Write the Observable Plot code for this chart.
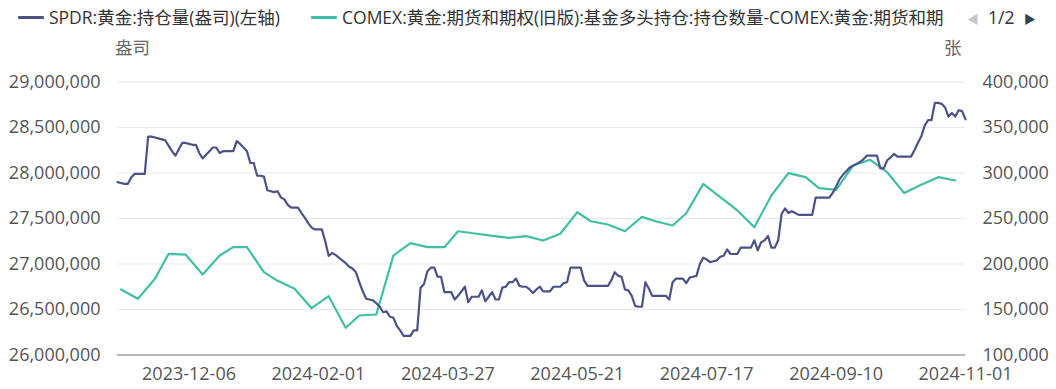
<!DOCTYPE html>
<html><head><meta charset="utf-8">
<script src="https://cdn.jsdelivr.net/npm/d3@7"></script>
<script src="https://cdn.jsdelivr.net/npm/@observablehq/plot@0.6"></script>
<style>
body{margin:0;background:#fff;font-family:"Open Sans","Noto Sans CJK SC",sans-serif;}
#wrap{position:relative;width:1056px;height:389px;overflow:hidden;}
.leg{position:absolute;top:6px;font-size:17.5px;color:#333;white-space:nowrap;line-height:22px;display:flex;align-items:center;}
.sw{display:inline-block;width:26px;height:3px;margin-right:5px;border-radius:1px;}
.unit{position:absolute;top:34px;font-size:17.5px;color:#666;}
.pager{position:absolute;top:6px;left:967px;font-size:17.5px;line-height:22px;color:#333;white-space:nowrap;}
</style></head>
<body>
<div id="wrap"><div id="chart"></div></div>
<script>
// Series names
const seriesA = "SPDR:黄金:持仓量(盎司)(左轴)";
const seriesB = "COMEX:黄金:期货和期权(旧版):基金多头持仓:持仓数量-COMEX:黄金:期货和期";
const unitLeft = "盎司", unitRight = "张";

// Trading-day calendar (categories)
const firstDay = "2023-11-06", lastDay = "2024-11-01";
const holidays = ["2023-11-23","2023-12-25","2024-01-01","2024-01-15","2024-02-19","2024-03-29","2024-05-27","2024-06-19","2024-07-04","2024-09-02"];

// X tick labels
const xTickLabels = ["2023-12-06","2024-02-01","2024-03-27","2024-05-21","2024-07-17","2024-09-10","2024-11-01"];
// Left axis ticks (ounces) and right axis ticks (contracts)
const leftTicks = [26000000,26500000,27000000,27500000,28000000,28500000,29000000];
const rightTicks = [100000,150000,200000,250000,300000,350000,400000];

// SPDR gold holdings, million ounces, one per trading day
const spdrM = [
27.90,27.89,27.88,27.88,27.95,27.99,27.99,27.99,27.99,28.40,
28.40,28.39,28.38,28.37,28.36,28.30,28.24,28.19,28.26,28.33,
28.33,28.32,28.31,28.31,28.22,28.16,28.20,28.24,28.28,28.28,
28.22,28.24,28.24,28.24,28.24,28.35,28.32,28.28,28.24,28.11,
28.11,27.97,27.97,27.96,27.81,27.80,27.79,27.80,27.73,27.71,
27.65,27.62,27.62,27.62,27.56,27.51,27.45,27.40,27.38,27.38,
27.38,27.25,27.09,27.12,27.10,27.07,27.04,27.01,26.97,26.95,
26.91,26.80,26.70,26.62,26.61,26.60,26.57,26.53,26.47,26.48,
26.42,26.41,26.32,26.27,26.21,26.21,26.21,26.27,26.27,26.74,
26.78,26.92,26.96,26.96,26.86,26.86,26.69,26.69,26.69,26.61,
26.65,26.70,26.75,26.58,26.64,26.64,26.64,26.71,26.59,26.64,
26.69,26.61,26.61,26.74,26.75,26.80,26.80,26.84,26.76,26.75,
26.75,26.72,26.68,26.72,26.75,26.70,26.70,26.70,26.75,26.75,
26.75,26.79,26.80,26.96,26.96,26.96,26.96,26.82,26.76,26.76,
26.76,26.76,26.76,26.76,26.76,26.82,26.91,26.87,26.86,26.72,
26.71,26.65,26.54,26.53,26.53,26.80,26.73,26.65,26.65,26.65,
26.65,26.65,26.61,26.80,26.84,26.84,26.84,26.79,26.85,26.86,
26.87,27.00,27.07,27.05,27.02,27.03,27.04,27.08,27.09,27.16,
27.11,27.11,27.11,27.18,27.18,27.18,27.18,27.26,27.15,27.24,
27.26,27.31,27.18,27.18,27.26,27.55,27.61,27.56,27.58,27.56,
27.54,27.54,27.54,27.54,27.54,27.73,27.73,27.73,27.73,27.73,
27.78,27.85,27.93,27.98,28.02,28.06,28.08,28.10,28.12,28.15,
28.19,28.19,28.19,28.19,28.05,28.05,28.14,28.17,28.21,28.18,
28.18,28.18,28.18,28.18,28.25,28.33,28.40,28.52,28.58,28.58,
28.77,28.77,28.76,28.72,28.62,28.66,28.62,28.69,28.68,28.59
];

// COMEX weekly (Tuesday) fund long positions, thousand contracts
const comexDates = [
"2023-11-07","2023-11-14","2023-11-21","2023-11-28","2023-12-05","2023-12-12","2023-12-19","2023-12-26",
"2024-01-02","2024-01-09","2024-01-16","2024-01-23","2024-01-30","2024-02-06","2024-02-13","2024-02-20","2024-02-27",
"2024-03-05","2024-03-12","2024-03-19","2024-03-26","2024-04-02","2024-04-09","2024-04-16","2024-04-23","2024-04-30",
"2024-05-07","2024-05-14","2024-05-21","2024-05-28","2024-06-04","2024-06-11","2024-06-18","2024-06-25",
"2024-07-02","2024-07-09","2024-07-16","2024-07-23","2024-07-30","2024-08-06","2024-08-13","2024-08-20","2024-08-27",
"2024-09-03","2024-09-10","2024-09-17","2024-09-24","2024-10-01","2024-10-08","2024-10-15","2024-10-22","2024-10-29"];
const comexK = [
172.0,161.8,183.7,211.2,210.4,188.5,209.3,218.5,
218.5,191.0,181.5,172.7,151.4,164.6,129.9,143.4,144.5,
209.3,222.9,218.5,218.5,236.0,233.5,231.0,228.8,230.6,
225.8,233.2,256.9,247.0,243.4,236.0,251.8,247.0,
242.3,255.8,288.1,273.4,258.8,240.4,275.3,299.8,295.4,
283.3,281.5,308.2,314.5,300.9,277.9,287.0,295.4,291.8];

const colorA = "#4c5187", colorB = "#3fbfa5";

const fmt = d3.utcFormat("%Y-%m-%d");
const dates = d3.utcDays(new Date(firstDay), d3.utcDay.offset(new Date(lastDay), 1))
  .filter(d => d.getUTCDay() !== 0 && d.getUTCDay() !== 6)
  .map(fmt).filter(s => !holidays.includes(s));

const spdr = spdrM.map((v, i) => ({date: dates[i], value: v * 1e6}));
// map right axis into left axis units: 100k..400k  <->  26M..29M
const toLeft = v => 26e6 + (v - 100000) * 10;
const comex = comexK.map((v, i) => ({date: comexDates[i], value: toLeft(v * 1000)}));

const num = d3.format(",");
const font = '"Open Sans","Noto Sans CJK SC",sans-serif';

const chart = Plot.plot({
  width: 1056, height: 389,
  marginLeft: 117, marginRight: 91, marginTop: 81.5, marginBottom: 34.5,
  style: {fontFamily: font, fontSize: "18px", color: "#555", background: "#fff"},
  x: {type: "point", domain: dates, padding: 0},
  y: {domain: [26e6, 29e6]},
  marks: [
    Plot.gridY(leftTicks.slice(1), {stroke: "#e8e8e8", strokeOpacity: 1, strokeWidth: 1}),
    Plot.ruleY([26e6], {stroke: "#6e7079", strokeWidth: 1.2}),
    Plot.line(comex, {x: "date", y: "value", stroke: colorB, strokeWidth: 2.2, strokeLinejoin: "round"}),
    Plot.line(spdr, {x: "date", y: "value", stroke: colorA, strokeWidth: 2.2, strokeLinejoin: "round"}),
    Plot.axisY(leftTicks, {anchor: "left", tickSize: 0, tickPadding: 17, tickFormat: num, label: null, fontSize: 18}),
    Plot.axisY(rightTicks.map(toLeft), {anchor: "right", tickSize: 0, tickPadding: 17, tickFormat: d => num(Math.round((d - 26e6) / 10 + 100000)), label: null, fontSize: 18}),
    Plot.axisX(xTickLabels, {tickSize: 0, tickPadding: 12, label: null, fontSize: 18})
  ]
});
const wrap = document.getElementById("wrap");
document.getElementById("chart").appendChild(chart);

function addLegend(left, color, text) {
  const d = document.createElement("div");
  d.className = "leg"; d.style.left = left + "px";
  const s = document.createElement("span"); s.className = "sw"; s.style.background = color;
  d.appendChild(s); d.appendChild(document.createTextNode(text));
  wrap.appendChild(d);
}
addLegend(18, colorA, seriesA);
addLegend(311, colorB, seriesB);
const u1 = document.createElement("div"); u1.className = "unit"; u1.style.left = "115px"; u1.textContent = unitLeft; wrap.appendChild(u1);
const u2 = document.createElement("div"); u2.className = "unit"; u2.style.left = "944px"; u2.textContent = unitRight; wrap.appendChild(u2);
const pg = document.createElement("div"); pg.className = "pager";
pg.innerHTML = '<span style="color:#c8c8c8;font-size:12px">◀</span>&nbsp;&nbsp;1/2&nbsp;&nbsp;<span style="color:#2f4554;font-size:12px">▶</span>';
wrap.appendChild(pg);
</script>
</body></html>
